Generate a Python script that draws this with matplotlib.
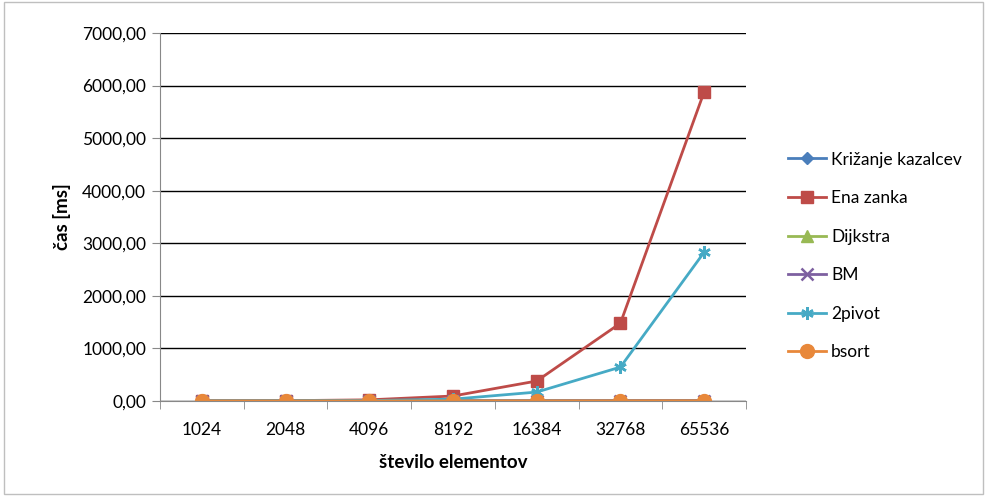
import matplotlib
matplotlib.use("Agg")
import matplotlib.pyplot as plt
from matplotlib.patches import Rectangle
from matplotlib.ticker import FuncFormatter, FixedLocator

plt.rcParams['font.family'] = ['Lato', 'DejaVu Sans']

categories = ["1024", "2048", "4096", "8192", "16384", "32768", "65536"]
krizanje = [0.5, 1, 2, 3, 4, 5, 6]
ena_zanka = [2, 6, 22, 95, 380, 1480, 5880]
dijkstra = [0.3, 0.6, 1, 2, 3, 4, 5]
bm = [0.2, 0.4, 0.8, 1.5, 2.5, 3.5, 4.5]
pivot2 = [1, 3, 8, 35, 170, 645, 2830]
bsort = [0.1, 0.2, 0.4, 0.8, 1.5, 2.5, 3.5]

series = [
    ("Križanje kazalcev", krizanje, "#4a7ebb", "D", 6),
    ("Ena zanka", ena_zanka, "#be4b48", "s", 8),
    ("Dijkstra", dijkstra, "#98b954", "^", 8),
    ("BM", bm, "#7d60a0", "x", 8),
    ("2pivot", pivot2, "#46aac5", (6, 2, 0), 9),
    ("bsort", bsort, "#e8883a", "o", 10),
]

fig = plt.figure(figsize=(9.87, 4.97), dpi=100)
fig.patches.append(Rectangle((0.004, 0.006), 0.992, 0.99, transform=fig.transFigure,
                             fill=False, edgecolor="#bfbfbf", linewidth=1))
ax = fig.add_axes([160/987, 1-401/497, (746-160)/987, (401-33)/497])

x = list(range(len(categories)))
for name, vals, col, mk, ms in series:
    kw = dict(markerfacecolor=col, markeredgecolor=col)
    if mk in ("x",) or isinstance(mk, tuple):
        kw = dict(markeredgecolor=col, markeredgewidth=1.8)
    ax.plot(x, vals, color=col, linewidth=2,
            marker=mk, markersize=ms, label=name, **kw)

ax.set_xlim(-0.5, 6.5)
ax.set_ylim(0, 7000)
ax.set_yticks(range(0, 7001, 1000))
ax.yaxis.set_major_formatter(FuncFormatter(lambda v, p: f"{v:.2f}".replace(".", ",")))
ax.set_xticks(x)
ax.set_xticklabels(categories)
ax.xaxis.set_minor_locator(FixedLocator([i - 0.5 for i in range(8)]))
ax.tick_params(axis="x", which="major", length=0, pad=15, labelsize=12.5)
ax.tick_params(axis="x", which="minor", length=6, color="#888888", direction="out")
ax.tick_params(axis="y", length=6, color="#888888", labelsize=12.5, pad=4)
ax.grid(axis="y", color="black", linewidth=1)
ax.set_axisbelow(True)
for s in ["top", "right"]:
    ax.spines[s].set_visible(False)
ax.spines["left"].set_color("#888888")
ax.spines["bottom"].set_color("#888888")
ax.set_xlabel("število elementov", fontsize=13.5, fontweight="bold", labelpad=12)
ax.set_ylabel("čas [ms]", fontsize=13.5, fontweight="bold", labelpad=8)

ax.legend(loc="center left", bbox_to_anchor=(772/987, 0.485), bbox_transform=fig.transFigure,
          frameon=False, fontsize=12.5, labelspacing=1.3, handlelength=2.2, handletextpad=0.3)

fig.savefig("out.png", dpi=100)
